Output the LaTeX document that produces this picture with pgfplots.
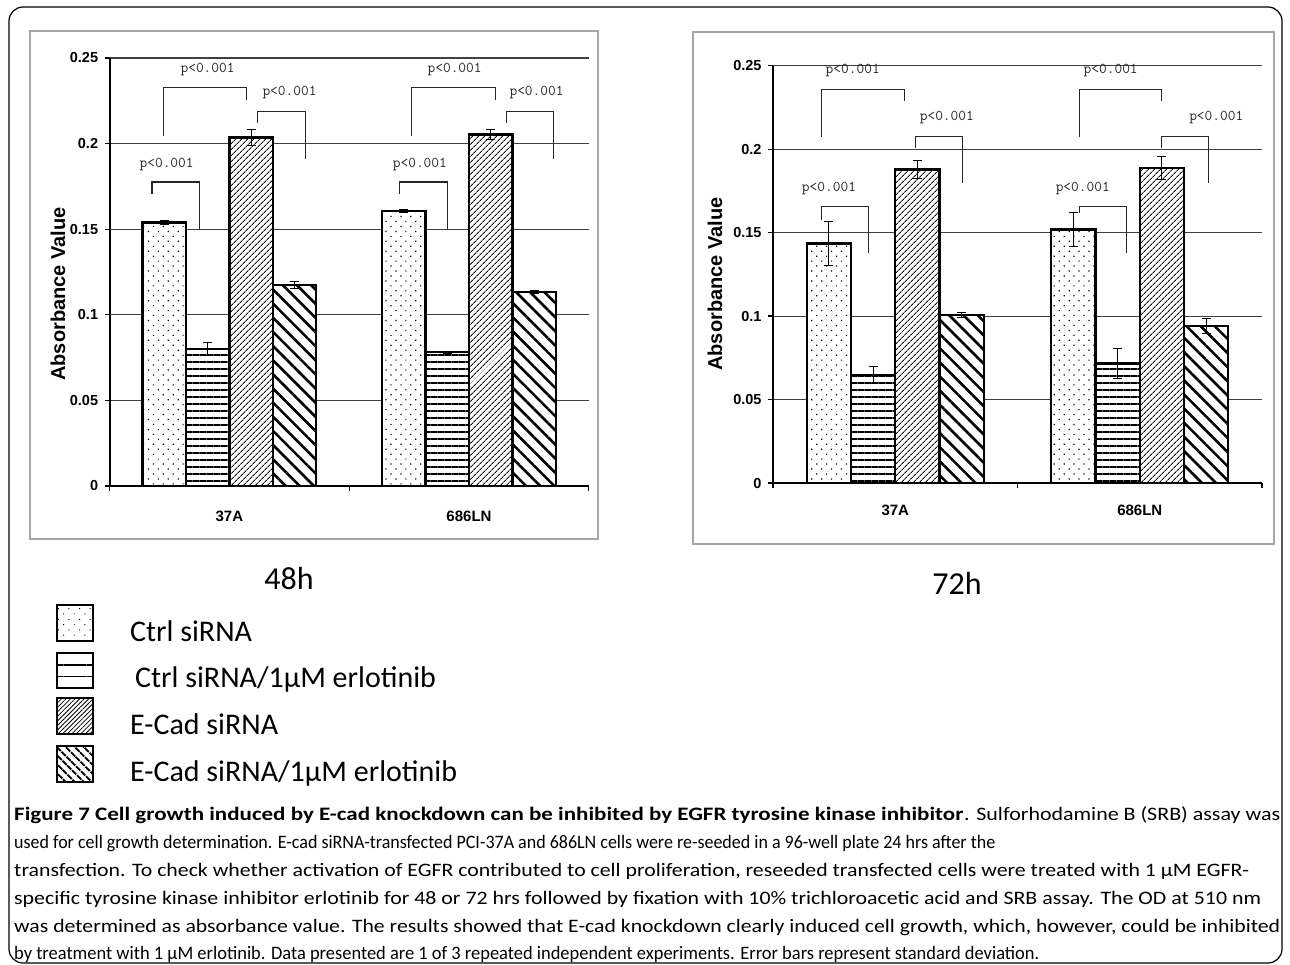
\documentclass[border=0pt]{standalone}
\usepackage{pgfplots}
\pgfplotsset{compat=1.18}
\usetikzlibrary{patterns.meta}
\usepackage{fontspec}
\usepackage{graphicx}
\setmainfont{Liberation Sans}
\newfontfamily\cali{Carlito}

\tikzset{
  pdots/.style={fill=white, postaction={pattern={Dots[distance=7pt, angle=45, radius=0.85pt]}}},
  phl/.style={fill=white, postaction={pattern={Lines[angle=0, distance=7pt, line width=1.6pt]}}},
  pne/.style={fill=white, postaction={pattern={Lines[angle=45, distance=4pt, line width=0.9pt]}}},
  pnw/.style={fill=white, postaction={pattern={Lines[angle=-45, distance=10pt, line width=2.6pt]}}},
  ldots/.style={fill=white, postaction={pattern={Dots[distance=7.5pt, angle=45, radius=0.7pt]}}},
  lhl/.style={fill=white, postaction={pattern={Lines[angle=0, distance=11.5pt, line width=1.3pt]}}},
  lne/.style={fill=white, postaction={pattern={Lines[angle=45, distance=3.2pt, line width=0.8pt]}}},
  lnw/.style={fill=white, postaction={pattern={Lines[angle=-45, distance=6.5pt, line width=2pt]}}},
  brk/.style={black!85, line width=1.1pt},
  plab/.style={font=\ttfamily\fontsize{15}{15}\selectfont, text=black!85, inner sep=0pt},
}

\pgfplotsset{
  mybar/.style={
    scale only axis,
    xmin=-0.5, xmax=1.5, ymin=0, ymax=0.25,
    axis lines*=left,
    axis line style={line width=2.2pt, black},
    ytick={0,0.05,0.1,0.15,0.2,0.25},
    yticklabels={0,0.05,0.1,0.15,0.2,0.25},
    xtick={-0.5,0.5,1.5}, xticklabels={},
    extra x ticks={0,1}, extra x tick labels={37A,686LN},
    extra x tick style={major tick length=0pt},
    tick align=outside, major tick length=5pt,
    tick style={black, line width=1.2pt},
    ymajorgrids, grid style={black!75, line width=1.1pt},
    /pgf/number format/assume math mode=true,
    yticklabel style={font=\fontsize{14.5}{14.5}\bfseries\selectfont, xshift=-3pt},
    ybar, bar width=0.181,
    error bars/y dir=both, error bars/y explicit,
    error bars/error bar style={line width=1pt, black},
    error bars/error mark options={rotate=90, mark size=4.5pt, line width=1pt, black},
    clip=false,
  },
  bstyle/.style={draw=black, line width=2.4pt},
}

\begin{document}
\begin{tikzpicture}[x=1pt,y=1pt]
\useasboundingbox (0,0) rectangle (1290,-964);
% outer frame
\draw[black, line width=1.2pt, rounded corners=14pt] (9,-7) rectangle (1282,-963);
% chart frames
\draw[gray!70, line width=2.5pt] (30,-31) rectangle (598,-539);
\draw[gray!70, line width=2.5pt] (693,-32) rectangle (1274,-544);

% ---------- 48h ----------
\begin{axis}[mybar, at={(109.6pt,-486pt)}, anchor=south west, width=479.2pt, height=428pt,
  xticklabel style={font=\fontsize{15}{15}\bfseries\selectfont, yshift=-21pt}]
\addplot[bstyle, pdots, bar shift=-0.2715] table[x=x,y=y,y error=e] {
x y e
0 0.1539 0.0010
1 0.1605 0.0010
};
\addplot[bstyle, phl, bar shift=-0.0905] table[x=x,y=y,y error=e] {
x y e
0 0.0800 0.0040
1 0.0782 0.0006
};
\addplot[bstyle, pne, bar shift=0.0905] table[x=x,y=y,y error=e] {
x y e
0 0.2035 0.0045
1 0.2053 0.0030
};
\addplot[bstyle, pnw, bar shift=0.2715] table[x=x,y=y,y error=e] {
x y e
0 0.1173 0.0020
1 0.1132 0.0010
};
% brackets
\draw[brk] (axis cs:-0.323,0.1704) |- (axis cs:-0.123,0.1776) -- (axis cs:-0.123,0.1504);
\draw[brk] (axis cs:-0.274,0.2045) |- (axis cs:0.073,0.2327) -- (axis cs:0.073,0.2253);
\draw[brk] (axis cs:0.117,0.2122) |- (axis cs:0.319,0.2188) -- (axis cs:0.319,0.1911);
\draw[brk] (axis cs:0.709,0.1704) |- (axis cs:0.909,0.1776) -- (axis cs:0.909,0.1504);
\draw[brk] (axis cs:0.761,0.2045) |- (axis cs:1.109,0.2327) -- (axis cs:1.109,0.2253);
\draw[brk] (axis cs:1.155,0.2122) |- (axis cs:1.352,0.2188) -- (axis cs:1.352,0.1911);
\node[plab] at (axis cs:-0.262,0.188) {p<0.001};
\node[plab] at (axis cs:-0.091,0.243) {p<0.001};
\node[plab] at (axis cs:0.251,0.2297) {p<0.001};
\node[plab] at (axis cs:0.795,0.188) {p<0.001};
\node[plab] at (axis cs:0.940,0.243) {p<0.001};
\node[plab] at (axis cs:1.282,0.2297) {p<0.001};
\end{axis}

% ---------- 72h ----------
\begin{axis}[mybar, at={(773pt,-483pt)}, anchor=south west, width=489pt, height=417.3pt,
  xticklabel style={font=\fontsize{15}{15}\bfseries\selectfont, yshift=-18pt}]
\addplot[bstyle, pdots, bar shift=-0.2715] table[x=x,y=y,y error=e] {
x y e
0 0.1434 0.0130
1 0.1518 0.0100
};
\addplot[bstyle, phl, bar shift=-0.0905] table[x=x,y=y,y error=e] {
x y e
0 0.0647 0.0050
1 0.0717 0.0090
};
\addplot[bstyle, pne, bar shift=0.0905] table[x=x,y=y,y error=e] {
x y e
0 0.1878 0.0052
1 0.1888 0.0070
};
\addplot[bstyle, pnw, bar shift=0.2715] table[x=x,y=y,y error=e] {
x y e
0 0.1006 0.0015
1 0.0940 0.0043
};
\draw[brk] (axis cs:-0.302,0.1578) |- (axis cs:-0.108,0.1657) -- (axis cs:-0.108,0.1375);
\draw[brk] (axis cs:-0.302,0.2072) |- (axis cs:0.036,0.2357) -- (axis cs:0.036,0.2287);
\draw[brk] (axis cs:0.084,0.2008) |- (axis cs:0.274,0.2076) -- (axis cs:0.274,0.1797);
\draw[brk] (axis cs:0.755,0.1618) |- (axis cs:0.947,0.1657) -- (axis cs:0.947,0.1375);
\draw[brk] (axis cs:0.755,0.2072) |- (axis cs:1.09,0.2357) -- (axis cs:1.09,0.2287);
\draw[brk] (axis cs:1.09,0.2008) |- (axis cs:1.282,0.2076) -- (axis cs:1.282,0.1797);
\node[plab] at (axis cs:-0.271,0.1767) {p<0.001};
\node[plab] at (axis cs:-0.174,0.247) {p<0.001};
\node[plab] at (axis cs:0.211,0.2187) {p<0.001};
\node[plab] at (axis cs:0.767,0.1767) {p<0.001};
\node[plab] at (axis cs:0.881,0.247) {p<0.001};
\node[plab] at (axis cs:1.313,0.2187) {p<0.001};
\end{axis}

% y labels
\node[rotate=90, font=\fontsize{20}{20}\bfseries\selectfont] at (58,-294) {Absorbance Value};
\node[rotate=90, font=\fontsize{20}{20}\bfseries\selectfont] at (715,-284) {Absorbance Value};

% time labels
\node[font=\cali\fontsize{32}{32}\selectfont] at (289,-578) {48h};
\node[font=\cali\fontsize{32}{32}\selectfont] at (957,-583) {72h};

% legend
\draw[black, line width=1.5pt, ldots] (57,-605) rectangle (93,-641);
\draw[black, line width=1.5pt, lhl] (57,-653) rectangle (93,-688);
\draw[black, line width=1.5pt, lne] (57,-698) rectangle (93,-734);
\draw[black, line width=1.5pt, lnw] (57,-746) rectangle (93,-782);
\node[anchor=base west, inner sep=0pt, font=\cali\fontsize{30}{30}\selectfont] at (130,-641) {Ctrl siRNA};
\node[anchor=base west, inner sep=0pt, font=\cali\fontsize{30}{30}\selectfont] at (135,-687) {Ctrl siRNA/1μM erlotinib};
\node[anchor=base west, inner sep=0pt, font=\cali\fontsize{30}{30}\selectfont] at (130,-734) {E-Cad siRNA};
\node[anchor=base west, inner sep=0pt, font=\cali\fontsize{30}{30}\selectfont] at (130,-781) {E-Cad siRNA/1μM erlotinib};

% caption
\begin{scope}[every node/.style={anchor=base west, inner sep=0pt, font=\cali\fontsize{19}{19}\selectfont}]
\node at (14,-820) {\resizebox{949pt}{\height}{\bfseries Figure 7 Cell growth induced by E-cad knockdown can be inhibited by EGFR tyrosine kinase inhibitor}};
\node at (964,-820) {\resizebox{316pt}{\height}{. Sulforhodamine B (SRB) assay was}};
\node at (14,-848) {\resizebox{981pt}{\height}{used for cell growth determination. E-cad siRNA-transfected PCI-37A and 686LN cells were re-seeded in a 96-well plate 24 hrs after the}};
\node at (14,-876) {\resizebox{1235pt}{\height}{transfection. To check whether activation of EGFR contributed to cell proliferation, reseeded transfected cells were treated with 1 μM EGFR-}};
\node at (14,-904) {\resizebox{1247pt}{\height}{specific tyrosine kinase inhibitor erlotinib for 48 or 72 hrs followed by fixation with 10\% trichloroacetic acid and SRB assay. The OD at 510 nm}};
\node at (14,-932) {\resizebox{1266pt}{\height}{was determined as absorbance value. The results showed that E-cad knockdown clearly induced cell growth, which, however, could be inhibited}};
\node at (14,-959) {\resizebox{1025pt}{\height}{by treatment with 1 μM erlotinib. Data presented are 1 of 3 repeated independent experiments. Error bars represent standard deviation.}};
\end{scope}
\end{tikzpicture}
\end{document}
